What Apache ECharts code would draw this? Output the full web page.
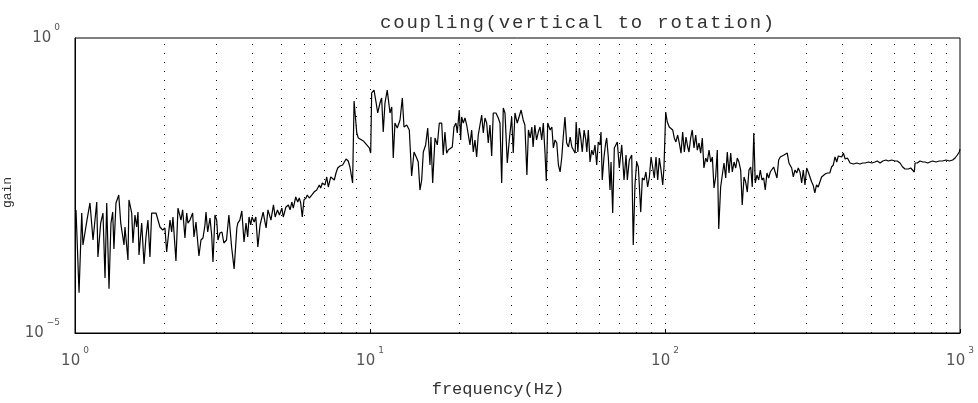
<!DOCTYPE html>
<html>
<head>
<meta charset="utf-8">
<script src="https://cdn.jsdelivr.net/npm/echarts@6/dist/echarts.min.js"></script>
<style>
  html, body { margin: 0; padding: 0; background: #fff; }
  #chart { width: 978px; height: 403px; }
</style>
</head>
<body>
<div id="chart"></div>
<script>
// Measured transfer gain, vertical drive to rotation response
const freqHz = [
  1.008, 1.032, 1.054, 1.064, 1.098, 1.124, 1.139, 1.151, 1.185, 1.196,
  1.222, 1.244, 1.264, 1.281, 1.304, 1.324, 1.342, 1.355, 1.377, 1.407,
  1.429, 1.466, 1.477, 1.512, 1.524, 1.557, 1.572, 1.597, 1.618, 1.635,
  1.648, 1.683, 1.714, 1.740, 1.767, 1.795, 1.819, 1.838, 1.882, 1.911,
  1.941, 1.982, 2.018, 2.045, 2.099, 2.127, 2.148, 2.199, 2.234, 2.287,
  2.317, 2.359, 2.391, 2.415, 2.453, 2.505, 2.531, 2.571, 2.631, 2.673,
  2.715, 2.758, 2.780, 2.817, 2.868, 2.906, 2.936, 2.982, 3.022, 3.052,
  3.100, 3.149, 3.195, 3.263, 3.324, 3.395, 3.463, 3.537, 3.564, 3.620,
  3.677, 3.741, 3.799, 3.850, 3.890, 3.942, 3.982, 4.048, 4.102, 4.167,
  4.240, 4.342, 4.444, 4.509, 4.616, 4.707, 4.770, 4.856, 4.933, 5.026,
  5.082, 5.190, 5.289, 5.360, 5.432, 5.496, 5.601, 5.688, 5.758, 5.822,
  5.894, 5.973, 6.067, 6.128, 6.226, 6.344, 6.460, 6.597, 6.733, 6.807,
  6.892, 7.040, 7.134, 7.223, 7.360, 7.475, 7.568, 7.669, 7.771, 7.910,
  8.078, 8.185, 8.294, 8.437, 8.550, 8.731, 8.831, 9.019, 9.128, 9.493,
  9.749, 9.945, 10.055, 10.13, 10.32, 10.48, 10.62, 10.81, 10.95, 11.09,
  11.24, 11.44, 11.69, 11.85, 11.99, 12.15, 12.37, 12.64, 12.87, 13.04,
  13.32, 13.59, 13.84, 14.10, 14.40, 14.57, 14.77, 14.97, 15.16, 15.44,
  15.69, 15.97, 16.09, 16.31, 16.61, 16.91, 17.18, 17.50, 17.71, 17.95,
  18.19, 18.42, 18.67, 19.01, 19.26, 19.56, 19.76, 20.07, 20.29, 20.45,
  20.71, 20.99, 21.27, 21.53, 21.82, 22.11, 22.39, 22.69, 22.99, 23.28,
  23.59, 23.91, 24.21, 24.53, 24.86, 25.17, 25.51, 25.85, 26.17, 26.73,
  27.22, 27.58, 27.95, 28.30, 28.68, 29.20, 29.66, 29.98, 30.22, 30.59,
  31.00, 31.56, 32.02, 32.53, 33.06, 33.50, 34.03, 34.44, 34.90, 35.37,
  35.72, 36.20, 36.69, 37.20, 37.70, 38.21, 38.68, 39.20, 39.60, 40.03,
  40.80, 41.35, 41.84, 42.40, 42.97, 43.52, 44.10, 44.69, 45.19, 45.80,
  46.41, 47.07, 47.70, 48.34, 48.94, 49.60, 49.99, 50.65, 51.22, 51.78,
  52.43, 53.18, 53.89, 54.32, 54.96, 55.70, 56.45, 57.13, 57.90, 58.68,
  59.40, 60.20, 60.67, 61.28, 62.11, 62.94, 63.44, 64.24, 65.10, 65.61,
  66.48, 67.33, 68.23, 68.92, 70.01, 71.34, 72.63, 73.77, 74.52, 75.68,
  77.12, 78.05, 79.10, 80.16, 81.21, 82.75, 83.78, 85.03, 86.17, 87.31,
  88.51, 89.69, 90.89, 91.99, 93.22, 94.46, 95.67, 96.95, 98.24, 99.22,
  100.55, 101.8, 103.4, 104.8, 106.2, 107.5, 108.9, 110.4, 111.8, 113.3,
  114.8, 116.3, 117.8, 119.4, 120.6, 122.2, 123.7, 125.4, 127.1, 128.7,
  130.4, 132.1, 133.8, 135.5, 137.4, 139.1, 141.0, 142.9, 144.7, 146.6,
  148.5, 150.4, 152.1, 154.4, 156.4, 158.5, 160.6, 162.6, 164.8, 167.0,
  169.1, 171.4, 173.7, 175.8, 178.1, 180.5, 182.7, 185.3, 187.7, 190.1,
  192.6, 195.2, 197.6, 200.0, 202.3, 205.0, 207.8, 210.4, 213.2, 216.0,
  218.7, 221.6, 224.6, 227.4, 230.5, 233.5, 236.4, 239.6, 242.8, 245.9,
  249.2, 253.1, 256.5, 259.7, 263.1, 268.8, 272.2, 275.8, 279.5, 283.0,
  286.8, 290.6, 294.3, 298.2, 302.2, 305.9, 310.0, 314.2, 317.7, 322.0,
  326.3, 330.6, 335.0, 339.5, 344.4, 349.0, 355.3, 362.0, 366.9, 372.0,
  377.0, 382.1, 386.8, 392.0, 397.3, 402.6, 408.0, 415.3, 424.0, 435.2,
  446.9, 458.0, 467.7, 477.0, 489.4, 502.6, 515.0, 524.3, 536.0, 547.4,
  561.3, 571.3, 586.8, 602.0, 612.8, 626.0, 639.3, 651.0, 668.0, 680.7,
  691.4, 700.1, 704.0, 716.7, 732.0, 747.5, 761.0, 777.1, 791.0, 807.8,
  829.4, 850.3, 873.1, 896.9, 919.9, 944.6, 962.0, 979.3, 994.5, 1000.0
];

const gain = [
  1.22e-3, 4.8e-5, 1.08e-3, 3.1e-4, 8.2e-4, 1.6e-3, 1.6e-3, 3.77e-4, 1.66e-3, 1.94e-4,
  7.3e-4, 1.08e-3, 8.6e-5, 1.6e-3, 5.6e-5, 7.3e-4, 1.12e-3, 2.65e-4, 1.6e-3, 2.18e-3,
  7.3e-4, 3.1e-4, 6.26e-4, 1.73e-4, 1.8e-3, 1.08e-3, 3.35e-4, 1.0e-3, 6.26e-4, 1.12e-3,
  2.1e-4, 7.3e-4, 1.48e-4, 4.24e-4, 8.2e-4, 1.94e-4, 1.08e-3, 1.12e-3, 1.08e-3, 1.08e-3,
  6.26e-4, 5.57e-4, 6.02e-4, 2.36e-4, 8.2e-4, 5.15e-4, 9.25e-4, 1.66e-4, 1.31e-3, 8.2e-4,
  1.22e-3, 4.08e-4, 1.08e-3, 7.3e-4, 8.2e-4, 1.08e-3, 4.24e-4, 7.61e-4, 2.02e-4, 3.77e-4,
  4.08e-4, 6.77e-4, 1.12e-3, 5.15e-4, 8.9e-4, 4.58e-4, 1.6e-4, 1.0e-3, 8.2e-4, 3.77e-4,
  4.95e-4, 5.15e-4, 3.35e-4, 3.77e-4, 1.0e-3, 2.87e-4, 1.22e-4, 6.02e-4, 7.3e-4, 8.2e-4,
  1.17e-3, 3.49e-4, 7.3e-4, 4.24e-4, 9.25e-4, 6.77e-4, 9.25e-4, 7.61e-4, 9.25e-4, 2.87e-4,
  6.77e-4, 1.12e-3, 6.02e-4, 1.22e-3, 8.2e-4, 1.48e-3, 9.25e-4, 1.22e-3, 1.0e-3, 1.31e-3,
  9.25e-4, 1.37e-3, 1.48e-3, 1.22e-3, 1.66e-3, 1.31e-3, 2.02e-3, 1.66e-3, 1.94e-3, 1.6e-3,
  9.25e-4, 1.8e-3, 1.94e-3, 2.18e-3, 1.94e-3, 2.18e-3, 2.45e-3, 2.65e-3, 3.23e-3, 2.87e-3,
  3.49e-3, 3.23e-3, 4.41e-3, 2.98e-3, 4.41e-3, 4.76e-3, 3.92e-3, 5.15e-3, 6.26e-3, 6.77e-3,
  7.04e-3, 7.61e-3, 8.9e-3, 8.23e-3, 6.51e-3, 3.49e-3, 8.55e-2, 2.45e-2, 2.02e-2, 1.8e-2,
  1.54e-2, 1.37e-2, 1.12e-2, 1.17e-1, 1.31e-1, 8.23e-2, 5.36e-2, 7.91e-2, 9.62e-2, 2.55e-2,
  7.91e-2, 1.31e-1, 5.36e-2, 6.77e-2, 9.25e-3, 3.62e-2, 2.98e-2, 4.08e-2, 9.62e-2, 3.1e-2,
  3.35e-2, 2.76e-2, 4.58e-3, 1.17e-2, 9.25e-3, 7.91e-3, 2.65e-3, 3.92e-3, 1.17e-2, 1.54e-2,
  2.98e-2, 7.04e-3, 2.1e-2, 3.49e-3, 2.02e-2, 1.54e-2, 3.62e-2, 3.62e-2, 1.04e-2, 2.55e-2,
  1.12e-2, 1.26e-2, 1.17e-2, 1.42e-2, 3.1e-2, 3.62e-2, 2.45e-2, 6.02e-2, 1.87e-2, 4.58e-2,
  3.62e-2, 4.41e-2, 3.35e-2, 3.1e-2, 1.54e-2, 2.76e-2, 1.17e-2, 1.87e-2, 9.62e-3, 2.27e-2,
  2.45e-2, 4.95e-2, 2.45e-2, 4.41e-2, 3.62e-2, 1.66e-2, 3.35e-2, 1.0e-2, 5.36e-2, 5.36e-2,
  4.41e-2, 3.62e-2, 3.49e-3, 6.51e-2, 5.36e-2, 7.61e-3, 1.87e-2, 1.73e-2, 4.58e-2, 1.12e-2,
  5.36e-2, 3.62e-2, 3.62e-2, 6.02e-2, 4.08e-2, 3.35e-2, 4.76e-3, 2.76e-2, 2.02e-2, 3.1e-2,
  1.42e-2, 3.35e-2, 1.87e-2, 2.55e-2, 3.1e-2, 1.87e-2, 3.62e-2, 1.12e-2, 3.77e-3, 3.62e-2,
  2.76e-2, 3.1e-2, 1.37e-2, 1.87e-2, 1.66e-2, 7.04e-3, 5.36e-3, 9.62e-3, 2.1e-2, 4.58e-2,
  1.66e-2, 1.42e-2, 2.1e-2, 1.42e-2, 1.26e-2, 1.12e-2, 3.77e-2, 1.17e-2, 2.98e-2, 2.1e-2,
  1.17e-2, 2.76e-2, 1.87e-2, 1.17e-2, 2.76e-2, 7.91e-3, 1.26e-2, 1.04e-2, 1.54e-2, 7.04e-3,
  1.73e-2, 1.54e-2, 2.55e-2, 3.92e-3, 9.62e-3, 1.66e-2, 2.02e-2, 9.62e-3, 2.65e-3, 7.91e-3,
  1.08e-3, 1.37e-2, 1.42e-2, 1.73e-2, 6.26e-3, 1.54e-2, 3.92e-3, 1.04e-2, 3.92e-3, 8.55e-3,
  1.04e-2, 3.1e-4, 3.23e-3, 7.91e-3, 6.51e-3, 1.12e-3, 4.24e-3, 3.92e-3, 5.36e-3, 2.98e-3,
  4.41e-3, 9.62e-3, 9.25e-3, 4.24e-3, 9.62e-3, 3.92e-3, 9.25e-3, 5.79e-3, 3.23e-3, 6.51e-3,
  5.57e-2, 3.77e-2, 3.1e-2, 3.35e-2, 2.76e-2, 2.02e-2, 1.73e-2, 2.27e-2, 1.66e-2, 1.12e-2,
  2.55e-2, 1.17e-2, 2.1e-2, 1.42e-2, 1.17e-2, 2.02e-2, 2.76e-2, 1.37e-2, 2.27e-2, 1.26e-2,
  1.66e-2, 1.12e-2, 2.02e-2, 6.26e-3, 9.25e-3, 7.91e-3, 1.26e-2, 7.91e-3, 9.62e-3, 2.87e-3,
  4.41e-3, 1.26e-2, 5.79e-4, 2.98e-3, 4.76e-3, 7.61e-3, 4.24e-3, 1.17e-2, 5.15e-3, 1.12e-2,
  5.36e-3, 7.91e-3, 6.26e-3, 9.25e-3, 7.91e-3, 5.79e-3, 1.48e-3, 4.41e-3, 3.62e-3, 2.45e-3,
  5.79e-3, 6.51e-3, 2.98e-3, 2.45e-2, 3.49e-3, 4.76e-3, 3.92e-3, 5.79e-3, 3.92e-3, 4.24e-3,
  2.65e-3, 5.15e-3, 4.24e-3, 5.36e-3, 5.79e-3, 6.51e-3, 6.26e-3, 4.24e-3, 8.55e-3, 9.62e-3,
  9.25e-3, 1.04e-2, 1.12e-2, 1.12e-2, 7.61e-3, 6.26e-3, 4.41e-3, 5.79e-3, 5.15e-3, 6.26e-3,
  5.36e-3, 3.49e-3, 5.79e-3, 3.23e-3, 6.26e-3, 5.36e-3, 4.41e-3, 3.62e-3, 3.23e-3, 2.36e-3,
  3.23e-3, 2.98e-3, 3.62e-3, 4.41e-3, 4.24e-3, 4.95e-3, 5.15e-3, 5.15e-3, 6.51e-3, 7.04e-3,
  9.62e-3, 7.91e-3, 1.0e-2, 9.25e-3, 9.62e-3, 1.12e-2, 8.9e-3, 9.25e-3, 7.61e-3, 7.32e-3,
  7.61e-3, 7.32e-3, 7.61e-3, 7.61e-3, 7.91e-3, 7.61e-3, 7.91e-3, 8.23e-3, 7.61e-3, 8.23e-3,
  8.55e-3, 8.23e-3, 8.55e-3, 8.23e-3, 8.23e-3, 7.61e-3, 6.51e-3, 6.02e-3, 6.02e-3, 6.26e-3,
  6.51e-3, 5.36e-3, 7.61e-3, 7.61e-3, 8.23e-3, 7.91e-3, 7.91e-3, 7.61e-3, 7.91e-3, 8.23e-3,
  7.91e-3, 8.23e-3, 8.23e-3, 8.55e-3, 8.23e-3, 8.55e-3, 9.25e-3, 1.04e-2, 1.17e-2, 1.31e-2
];

// Dotted vertical guide lines: 2..9 in every decade plus the inner decades
const gridFreqs = [2, 3, 4, 5, 6, 7, 8, 9, 10, 20, 30, 40, 50, 60, 70, 80, 90,
                   100, 200, 300, 400, 500, 600, 700, 800, 900];

const titleText = 'coupling(vertical to rotation)';
const xName = 'frequency(Hz)';
const yName = 'gain';

const monoFont = '"Liberation Mono", "DejaVu Sans Mono", monospace';
const labelFont = '"DejaVu Sans", sans-serif';

// Typewriter-style title: one rich token per character so the letters sit a little apart
function spread(text) {
  return text.split('').map(ch => '{c|' + ch + '}').join('');
}
const titleRich = {
  c: { fontFamily: monoFont, fontSize: 19, color: '#333', lineHeight: 20, padding: [0, 1.8, 0, 0] }
};

// "10" with a raised exponent
function powerLabel(v) {
  const e = Math.round(Math.log10(v));
  return '{b|10}{e|' + (e < 0 ? '\u2212' + (-e) : e) + '}';
}
const powerRich = {
  b: { fontFamily: labelFont, fontSize: 15, color: '#555', lineHeight: 14, padding: [8, 0, 0, 0] },
  e: { fontFamily: labelFont, fontSize: 9, color: '#555', lineHeight: 10, padding: [0, 0, 12, 3] }
};

const chart = echarts.init(document.getElementById('chart'), null, { renderer: 'canvas' });

chart.setOption({
  animation: false,
  backgroundColor: '#fff',
  title: {
    text: spread(titleText),
    left: 375,
    top: 8,
    textStyle: { fontFamily: monoFont, fontSize: 19, fontWeight: 'normal', color: '#333', rich: titleRich }
  },
  grid: {
    left: 75, right: 18, top: 38, bottom: 70,
    containLabel: false,
    outerBoundsMode: 'none',
    show: true, borderColor: '#000', borderWidth: 1, backgroundColor: 'transparent'
  },
  xAxis: {
    type: 'log',
    logBase: 10,
    min: 1,
    max: 1000,
    name: xName,
    nameLocation: 'middle',
    nameGap: 48,
    nameTextStyle: { fontFamily: monoFont, fontSize: 17, color: '#333', padding: [0, 39, 0, 0] },
    axisLine: { show: true, lineStyle: { color: '#000', width: 1 } },
    axisTick: { show: true, inside: true, length: 4, lineStyle: { color: '#000' } },
    splitLine: { show: false },
    axisLabel: { margin: 17, formatter: powerLabel, rich: powerRich }
  },
  yAxis: {
    type: 'log',
    logBase: 10,
    min: 1e-5,
    max: 1,
    name: yName,
    nameLocation: 'middle',
    nameGap: 60,
    nameTextStyle: { fontFamily: monoFont, fontSize: 13, color: '#333', padding: [0, 14, 0, 0] },
    axisLine: { show: true, lineStyle: { color: '#000', width: 1 } },
    axisTick: { show: false },
    splitLine: { show: false },
    axisLabel: {
      margin: 15,
      padding: [0, 0, 8, 0],
      formatter: function (v) {
        const e = Math.round(Math.log10(v));
        return (e === 0 || e === -5) ? powerLabel(v) : '';
      },
      rich: powerRich
    }
  },
  series: [
    {
      type: 'line',
      data: freqHz.map((f, i) => [f, gain[i]]),
      showSymbol: false,
      symbol: 'none',
      lineStyle: { color: '#000', width: 1.2 },
      markLine: {
        silent: true,
        animation: false,
        symbol: ['none', 'none'],
        label: { show: false },
        lineStyle: { color: '#111', width: 1, type: [1, 8] },
        data: gridFreqs.map(f => ({ xAxis: f }))
      }
    }
  ]
});
</script>
</body>
</html>
